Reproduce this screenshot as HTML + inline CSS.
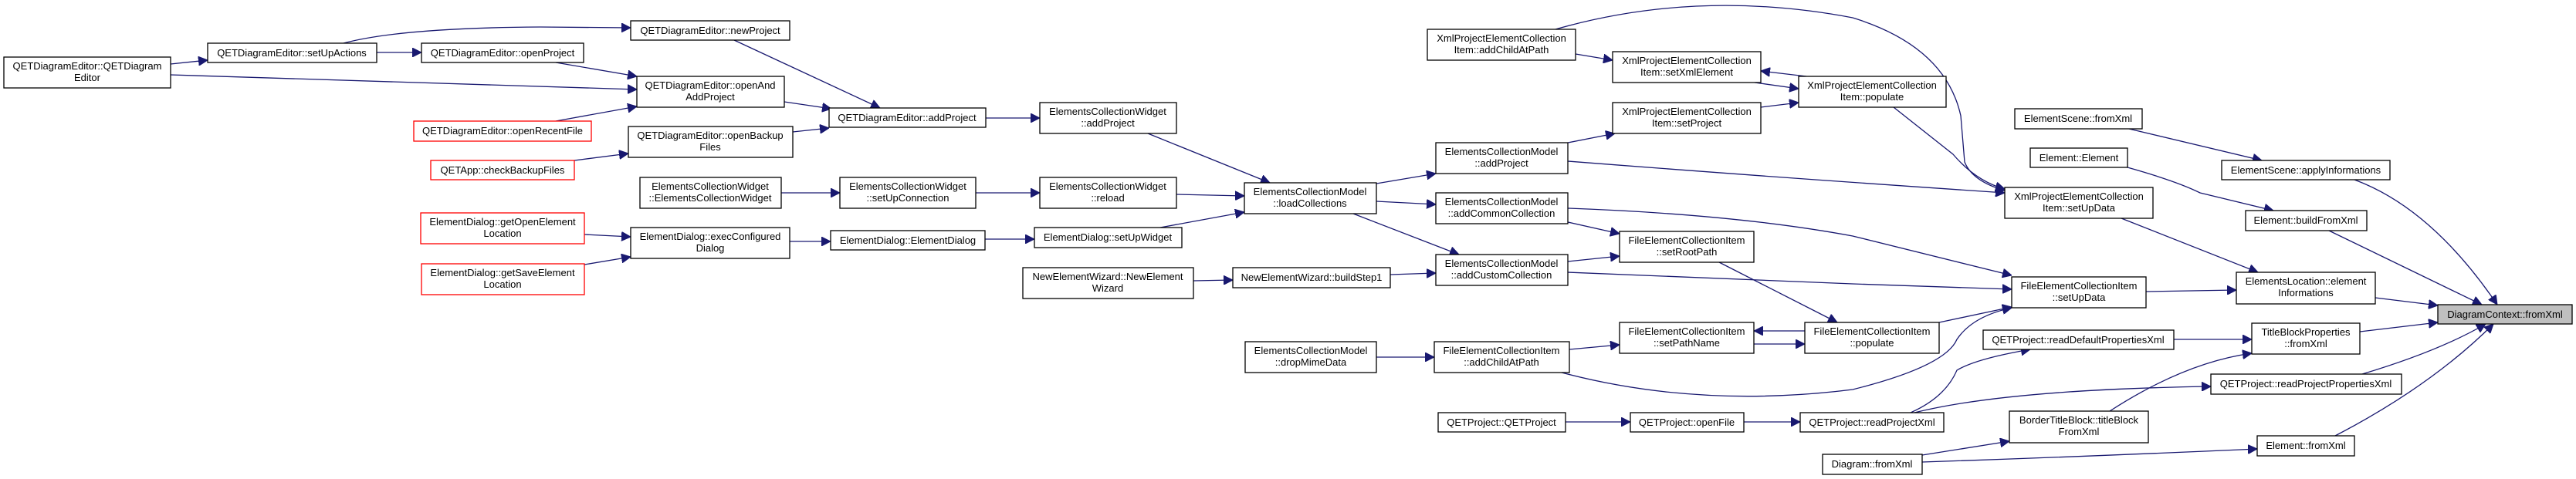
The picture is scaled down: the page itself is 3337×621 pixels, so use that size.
<!DOCTYPE html>
<html><head><meta charset="utf-8"><style>
html,body{margin:0;padding:0;background:#fff;}
svg{display:block;}
text{font-family:"Liberation Sans",Arial,sans-serif;font-size:13px;fill:#000;}
.n{fill:#fff;stroke:#000;stroke-width:1.3;}
.r{fill:#fff;stroke:#ff0000;stroke-width:1.3;}
.g{fill:#bfbfbf;stroke:#000;stroke-width:1.3;}
.e{fill:none;stroke:#191970;stroke-width:1.3;marker-end:url(#a);}
</style></head><body>
<svg width="3337" height="621" viewBox="0 0 3337 621" xmlns="http://www.w3.org/2000/svg">
<defs><marker id="a" markerUnits="userSpaceOnUse" markerWidth="12" markerHeight="12" refX="12" refY="6" orient="auto"><path d="M0,0 L12,6 L0,12 z" fill="#191970" stroke="#191970"/></marker></defs>

<!-- edges -->
<path class="e" d="M221,83 L269,78"/>
<path class="e" d="M221,97 L825,116"/>
<path class="e" d="M445,56 Q520,36 700,35 L817,36"/>
<path class="e" d="M488,68 L546,68"/>
<path class="e" d="M720,81 L825,99"/>
<path class="e" d="M720,157 L825,138"/>
<path class="e" d="M744,208 L814,199"/>
<path class="e" d="M757,304 L817,307"/>
<path class="e" d="M757,343 L817,333"/>
<path class="e" d="M951,52 L1140,140"/>
<path class="e" d="M1016,132 L1077,141"/>
<path class="e" d="M1027,171 L1074,166"/>
<path class="e" d="M1277,153 L1347,153"/>
<path class="e" d="M1012,250 L1088,250"/>
<path class="e" d="M1264,250 L1347,250"/>
<path class="e" d="M1023,313 L1076,313"/>
<path class="e" d="M1276,310 L1340,310"/>
<path class="e" d="M1487,173 L1645,237"/>
<path class="e" d="M1524,252 L1612,254"/>
<path class="e" d="M1503,295 L1612,275"/>
<path class="e" d="M1546,364 L1597,363"/>
<path class="e" d="M1801,356 L1860,354"/>
<path class="e" d="M1783,463 L1858,463"/>
<path class="e" d="M1783,238 L1860,225"/>
<path class="e" d="M1783,261 L1860,265"/>
<path class="e" d="M1753,277 L1890,330"/>
<path class="e" d="M2031,185 L2092,173"/>
<path class="e" d="M2031,209 Q2300,230 2597,250"/>
<path class="e" d="M2041,70 L2089,78"/>
<path class="e" d="M2015,38 Q2200,-15 2400,23 Q2520,60 2540,150 L2545,210 Q2555,235 2597,247"/>
<path class="e" d="M2340,99 L2281,92"/>
<path class="e" d="M2273,107 L2330,115"/>
<path class="e" d="M2281,139 L2330,133"/>
<path class="e" d="M2453,139 L2530,200 Q2560,235 2597,245"/>
<path class="e" d="M2031,288 L2098,303"/>
<path class="e" d="M2031,339 L2098,332"/>
<path class="e" d="M2031,270 Q2250,278 2400,306 L2606,357"/>
<path class="e" d="M2031,353 Q2250,362 2400,368 L2606,375"/>
<path class="e" d="M2227,340 L2380,418"/>
<path class="e" d="M2338,429 L2272,429"/>
<path class="e" d="M2272,446 L2338,446"/>
<path class="e" d="M2033,453 L2098,447"/>
<path class="e" d="M2023,483 Q2200,530 2400,505 Q2520,475 2535,440 Q2555,410 2606,399"/>
<path class="e" d="M2512,418 L2606,398"/>
<path class="e" d="M2028,547 L2112,547"/>
<path class="e" d="M2259,547 L2332,547"/>
<path class="e" d="M2475,535 Q2520,515 2535,480 Q2560,465 2630,453"/>
<path class="e" d="M2480,535 Q2600,505 2864,501"/>
<path class="e" d="M2490,590 L2603,572"/>
<path class="e" d="M2490,599 Q2700,592 2924,582"/>
<path class="e" d="M2733,533 Q2830,470 2917,458"/>
<path class="e" d="M2816,440 L2917,440"/>
<path class="e" d="M2748,283 L2925,353"/>
<path class="e" d="M2780,378 L2897,376"/>
<path class="e" d="M2758,167 L2930,208"/>
<path class="e" d="M2756,217 Q2820,235 2850,250 L2945,273"/>
<path class="e" d="M3050,233 Q3150,270 3235,395"/>
<path class="e" d="M3017,299 L3215,395"/>
<path class="e" d="M3077,386 L3158,396"/>
<path class="e" d="M3057,430 L3158,418"/>
<path class="e" d="M3060,485 Q3160,455 3220,420"/>
<path class="e" d="M3025,565 Q3150,500 3230,420"/>

<!-- nodes -->
<g text-anchor="middle">
<rect class="n" x="5" y="74" width="216" height="40"/><text x="113" y="90">QETDiagramEditor::QETDiagram</text><text x="113" y="105">Editor</text>
<rect class="n" x="269" y="56" width="219" height="25"/><text x="378" y="73">QETDiagramEditor::setUpActions</text>
<rect class="n" x="546" y="56" width="210" height="25"/><text x="651" y="73">QETDiagramEditor::openProject</text>
<rect class="r" x="536" y="157" width="230" height="26"/><text x="651" y="174">QETDiagramEditor::openRecentFile</text>
<rect class="r" x="558" y="208" width="186" height="25"/><text x="651" y="225">QETApp::checkBackupFiles</text>
<rect class="r" x="545" y="276" width="212" height="40"/><text x="651" y="292">ElementDialog::getOpenElement</text><text x="651" y="307">Location</text>
<rect class="r" x="546" y="342" width="211" height="40"/><text x="651" y="358">ElementDialog::getSaveElement</text><text x="651" y="373">Location</text>

<rect class="n" x="817" y="27" width="206" height="25"/><text x="920" y="44">QETDiagramEditor::newProject</text>
<rect class="n" x="825" y="99" width="191" height="40"/><text x="920" y="115">QETDiagramEditor::openAnd</text><text x="920" y="130">AddProject</text>
<rect class="n" x="814" y="164" width="213" height="40"/><text x="920" y="180">QETDiagramEditor::openBackup</text><text x="920" y="195">Files</text>
<rect class="n" x="829" y="230" width="183" height="40"/><text x="920" y="246">ElementsCollectionWidget</text><text x="920" y="261">::ElementsCollectionWidget</text>
<rect class="n" x="817" y="295" width="206" height="40"/><text x="920" y="311">ElementDialog::execConfigured</text><text x="920" y="326">Dialog</text>

<rect class="n" x="1074" y="140" width="203" height="25"/><text x="1175" y="157">QETDiagramEditor::addProject</text>
<rect class="n" x="1088" y="230" width="176" height="40"/><text x="1176" y="246">ElementsCollectionWidget</text><text x="1176" y="261">::setUpConnection</text>
<rect class="n" x="1076" y="299" width="200" height="25"/><text x="1176" y="316">ElementDialog::ElementDialog</text>

<rect class="n" x="1347" y="133" width="177" height="40"/><text x="1435" y="149">ElementsCollectionWidget</text><text x="1435" y="164">::addProject</text>
<rect class="n" x="1347" y="230" width="177" height="40"/><text x="1435" y="246">ElementsCollectionWidget</text><text x="1435" y="261">::reload</text>
<rect class="n" x="1340" y="295" width="191" height="26"/><text x="1435" y="312">ElementDialog::setUpWidget</text>
<rect class="n" x="1325" y="347" width="221" height="40"/><text x="1435" y="363">NewElementWizard::NewElement</text><text x="1435" y="378">Wizard</text>

<rect class="n" x="1612" y="237" width="171" height="40"/><text x="1697" y="253">ElementsCollectionModel</text><text x="1697" y="268">::loadCollections</text>
<rect class="n" x="1597" y="347" width="204" height="26"/><text x="1699" y="364">NewElementWizard::buildStep1</text>
<rect class="n" x="1613" y="443" width="170" height="40"/><text x="1698" y="459">ElementsCollectionModel</text><text x="1698" y="474">::dropMimeData</text>

<rect class="n" x="1849" y="38" width="192" height="40"/><text x="1945" y="54">XmlProjectElementCollection</text><text x="1945" y="69">Item::addChildAtPath</text>
<rect class="n" x="1860" y="185" width="171" height="40"/><text x="1945" y="201">ElementsCollectionModel</text><text x="1945" y="216">::addProject</text>
<rect class="n" x="1860" y="250" width="171" height="40"/><text x="1945" y="266">ElementsCollectionModel</text><text x="1945" y="281">::addCommonCollection</text>
<rect class="n" x="1860" y="330" width="171" height="40"/><text x="1945" y="346">ElementsCollectionModel</text><text x="1945" y="361">::addCustomCollection</text>
<rect class="n" x="1858" y="443" width="175" height="40"/><text x="1945" y="459">FileElementCollectionItem</text><text x="1945" y="474">::addChildAtPath</text>
<rect class="n" x="1863" y="535" width="165" height="25"/><text x="1945" y="552">QETProject::QETProject</text>

<rect class="n" x="2089" y="67" width="192" height="40"/><text x="2185" y="83">XmlProjectElementCollection</text><text x="2185" y="98">Item::setXmlElement</text>
<rect class="n" x="2089" y="133" width="192" height="40"/><text x="2185" y="149">XmlProjectElementCollection</text><text x="2185" y="164">Item::setProject</text>
<rect class="n" x="2098" y="300" width="174" height="40"/><text x="2185" y="316">FileElementCollectionItem</text><text x="2185" y="331">::setRootPath</text>
<rect class="n" x="2098" y="418" width="174" height="40"/><text x="2185" y="434">FileElementCollectionItem</text><text x="2185" y="449">::setPathName</text>
<rect class="n" x="2112" y="535" width="147" height="25"/><text x="2185" y="552">QETProject::openFile</text>

<rect class="n" x="2330" y="99" width="191" height="40"/><text x="2425" y="115">XmlProjectElementCollection</text><text x="2425" y="130">Item::populate</text>
<rect class="n" x="2338" y="418" width="174" height="40"/><text x="2425" y="434">FileElementCollectionItem</text><text x="2425" y="449">::populate</text>
<rect class="n" x="2332" y="535" width="186" height="25"/><text x="2425" y="552">QETProject::readProjectXml</text>
<rect class="n" x="2361" y="589" width="129" height="26"/><text x="2425" y="606">Diagram::fromXml</text>

<rect class="n" x="2610" y="141" width="165" height="26"/><text x="2692" y="158">ElementScene::fromXml</text>
<rect class="n" x="2630" y="192" width="126" height="25"/><text x="2693" y="209">Element::Element</text>
<rect class="n" x="2597" y="243" width="192" height="40"/><text x="2693" y="259">XmlProjectElementCollection</text><text x="2693" y="274">Item::setUpData</text>
<rect class="n" x="2606" y="359" width="174" height="40"/><text x="2693" y="375">FileElementCollectionItem</text><text x="2693" y="390">::setUpData</text>
<rect class="n" x="2569" y="428" width="247" height="25"/><text x="2692" y="445">QETProject::readDefaultPropertiesXml</text>
<rect class="n" x="2603" y="533" width="180" height="41"/><text x="2693" y="549">BorderTitleBlock::titleBlock</text><text x="2693" y="564">FromXml</text>

<rect class="n" x="2878" y="208" width="218" height="25"/><text x="2987" y="225">ElementScene::applyInformations</text>
<rect class="n" x="2909" y="273" width="157" height="26"/><text x="2987" y="290">Element::buildFromXml</text>
<rect class="n" x="2897" y="353" width="180" height="41"/><text x="2987" y="369">ElementsLocation::element</text><text x="2987" y="384">Informations</text>
<rect class="n" x="2917" y="419" width="140" height="40"/><text x="2987" y="435">TitleBlockProperties</text><text x="2987" y="450">::fromXml</text>
<rect class="n" x="2864" y="485" width="247" height="26"/><text x="2987" y="502">QETProject::readProjectPropertiesXml</text>
<rect class="n" x="2924" y="565" width="126" height="26"/><text x="2987" y="582">Element::fromXml</text>

<rect class="g" x="3158" y="395" width="174" height="25"/><text x="3245" y="412">DiagramContext::fromXml</text>
</g>
</svg>
</body></html>
